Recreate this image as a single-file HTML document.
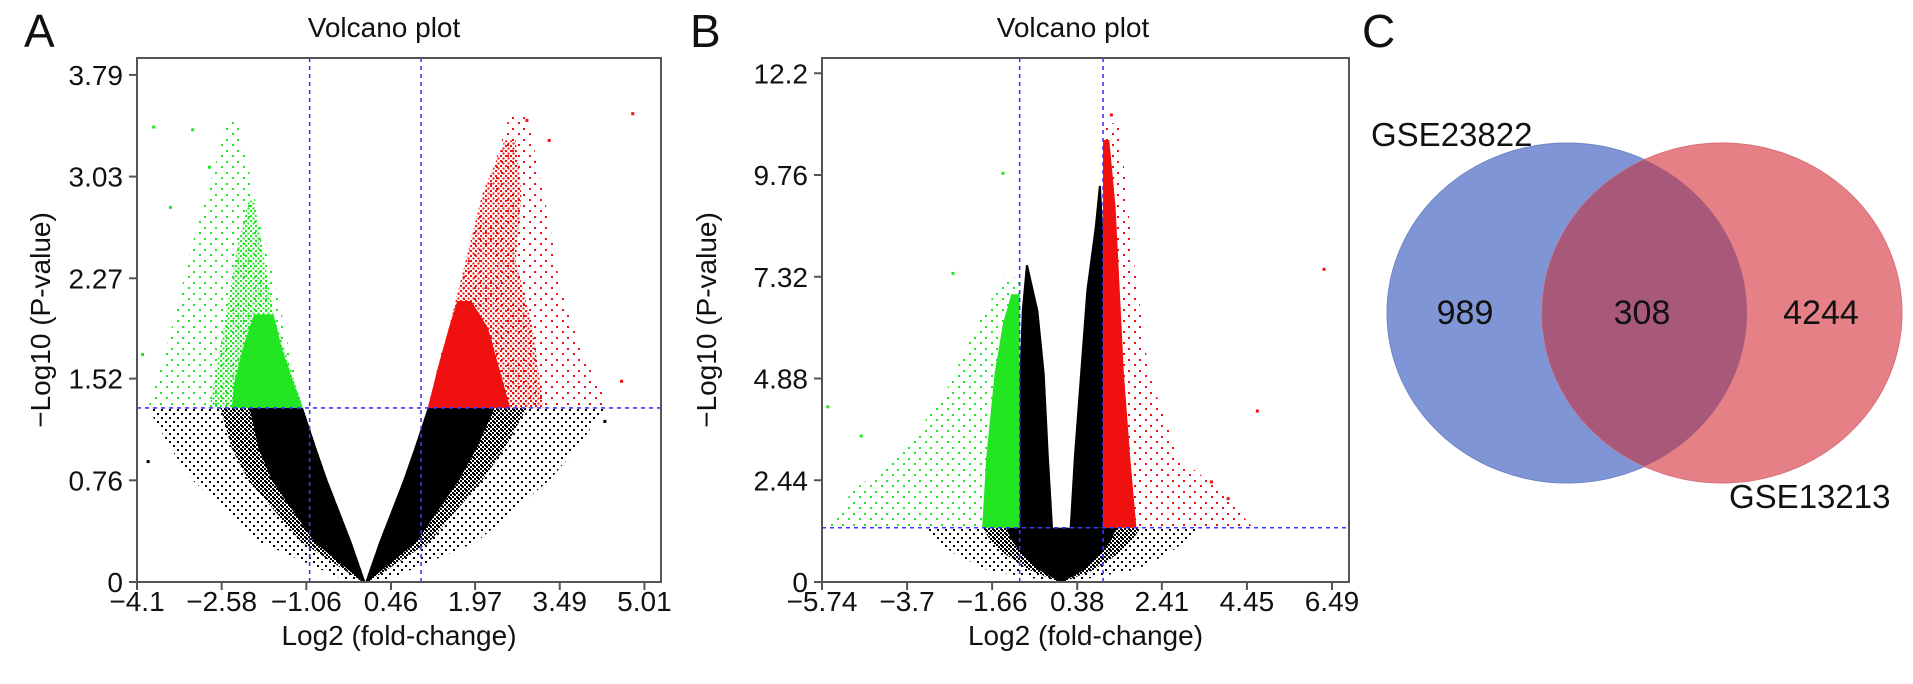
<!DOCTYPE html>
<html><head><meta charset="utf-8"><style>
html,body{margin:0;padding:0;background:#fff;}
svg{display:block;font-family:"Liberation Sans",sans-serif;}
</style></head><body>
<svg id="fig" width="1913" height="684" viewBox="0 0 1913 684" xmlns="http://www.w3.org/2000/svg">
<defs>
<pattern id="pk" width="4" height="4" patternUnits="userSpaceOnUse"><rect x="0" y="0" width="2" height="2" fill="#000"/><rect x="2" y="2" width="2" height="2" fill="#000"/></pattern>
<pattern id="pks" width="8" height="8" patternUnits="userSpaceOnUse"><rect x="1" y="1" width="2" height="2" fill="#000"/><rect x="5" y="5" width="2" height="2" fill="#000"/></pattern>
<pattern id="pg" width="5" height="5" patternUnits="userSpaceOnUse"><rect x="0" y="0" width="2" height="2" fill="#22e622"/><rect x="2.5" y="2.5" width="2" height="2" fill="#22e622"/></pattern>
<pattern id="pr" width="5" height="5" patternUnits="userSpaceOnUse"><rect x="0" y="0" width="2" height="2" fill="#f01010"/><rect x="2.5" y="2.5" width="2" height="2" fill="#f01010"/></pattern>
<pattern id="pgs" width="11" height="11" patternUnits="userSpaceOnUse"><rect x="1" y="1" width="2" height="2" fill="#22e622"/><rect x="6" y="7" width="2" height="2" fill="#22e622"/></pattern>
<pattern id="prs" width="11" height="11" patternUnits="userSpaceOnUse"><rect x="1" y="1" width="2" height="2" fill="#f01010"/><rect x="6" y="7" width="2" height="2" fill="#f01010"/></pattern>
<clipPath id="clipA"><rect x="137" y="58" width="524" height="524"/></clipPath>
<clipPath id="clipB"><rect x="822" y="58" width="527" height="524"/></clipPath>
<clipPath id="clipBlue"><ellipse cx="1567" cy="313" rx="180" ry="170"/></clipPath>
</defs>
<g id="panelA"></g>
<g id="panelB"></g>
<g id="venn">
<ellipse cx="1567" cy="313" rx="180" ry="170" fill="#8095d5" stroke="#6f84c8" stroke-width="1"/>
<ellipse cx="1722" cy="313" rx="180" ry="170" fill="#e68087" stroke="#d87078" stroke-width="1"/>
<ellipse cx="1722" cy="313" rx="180" ry="170" fill="#a8597a" clip-path="url(#clipBlue)"/>
<text x="1465" y="324" font-size="34" text-anchor="middle" fill="#111">989</text>
<text x="1642" y="324" font-size="34" text-anchor="middle" fill="#111">308</text>
<text x="1821" y="324" font-size="34" text-anchor="middle" fill="#111">4244</text>
<text x="1371" y="146" font-size="33" fill="#111">GSE23822</text>
<text x="1729" y="508" font-size="33" fill="#111">GSE13213</text>
</g>
<text x="24" y="47" font-size="46" fill="#111">A</text>
<text x="690" y="47" font-size="46" fill="#111">B</text>
<text x="1362" y="47" font-size="46" fill="#111">C</text>
</svg>
<script>
// ---------- Panel A data ----------
const aTicksX = [-4.1, -2.58, -1.06, 0.46, 1.97, 3.49, 5.01];
const aTicksY = [0, 0.76, 1.52, 2.27, 3.03, 3.79];
const aThreshX = [-1, 1];
const aThreshY = 1.301;
const aBlackY = [0, 0.3, 0.76, 1.0, 1.301];
const aBlackInL = [0, -0.25, -0.68, -0.88, -1.12];
const aBlackInR = [0, 0.25, 0.68, 0.88, 1.12];
const aBlackCoreL = [-0.05, -1.15, -2.1, -2.4, -2.6];
const aBlackCoreR = [0.05, 1.15, 2.1, 2.5, 2.9];
const aBlackHaloL = [-0.3, -1.9, -3.1, -3.5, -3.9];
const aBlackHaloR = [0.3, 2.0, 3.3, 3.8, 4.3];
const aGreenY = [1.301, 1.5, 1.75, 2.0];
const aGreenIn = [-1.12, -1.3, -1.5, -1.65];
const aGreenCore = [-2.4, -2.35, -2.2, -2.0];
const aGreenMidY = [1.301, 2.0, 2.5, 2.85];
const aGreenMidIn = [-1.12, -1.65, -1.85, -2.0];
const aGreenMid = [-2.8, -2.5, -2.3, -2.1];
const aGreenHaloY = [1.301, 1.7, 2.2, 2.7, 3.1, 3.45];
const aGreenHaloIn = [-1.12, -1.35, -1.6, -1.9, -2.1, -2.3];
const aGreenHalo = [-3.9, -3.6, -3.3, -3.0, -2.7, -2.5];
const aRedY = [1.301, 1.6, 1.9, 2.1];
const aRedIn = [1.12, 1.3, 1.5, 1.65];
const aRedCore = [2.6, 2.4, 2.2, 1.9];
const aRedMidY = [1.301, 1.9, 2.4, 2.9, 3.3];
const aRedMidIn = [1.12, 1.5, 1.8, 2.1, 2.5];
const aRedMid = [3.2, 3.0, 2.7, 2.8, 2.7];
const aRedHaloY = [1.301, 1.7, 2.2, 2.7, 3.1, 3.5];
const aRedHaloIn = [1.12, 1.35, 1.7, 2.0, 2.3, 2.6];
const aRedHalo = [4.4, 3.9, 3.5, 3.3, 3.1, 2.9];
const aOutX = [-3.8, -3.1, -2.8, -3.5, -4.0, 4.8, 4.6, 2.9, 3.3, -3.9, 4.3];
const aOutY = [3.4, 3.38, 3.1, 2.8, 1.7, 3.5, 1.5, 3.45, 3.3, 0.9, 1.2];
const aOutC = ['g','g','g','g','g','r','r','r','r','k','k'];
// ---------- Panel B data ----------
const bTicksX = [-5.74, -3.7, -1.66, 0.38, 2.41, 4.45, 6.49];
const bTicksY = [0, 2.44, 4.88, 7.32, 9.76, 12.2];
const bThreshX = [-1, 1];
const bThreshY = 1.301;
const bLowY = [0, 0.3, 0.7, 1.0, 1.301];
const bLowCoreL = [-0.05, -0.8, -1.4, -1.7, -1.9];
const bLowCoreR = [0.05, 0.8, 1.4, 1.7, 1.9];
const bLowHaloL = [-0.2, -1.8, -2.6, -3.0, -3.3];
const bLowHaloR = [0.2, 1.8, 2.6, 3.0, 3.4];
const bLeftLobeY = [1.301, 3, 5, 6.5, 7.6];
const bLeftLobeOut = [-1.0, -1.0, -1.0, -0.95, -0.85];
const bLeftLobeIn = [-0.2, -0.3, -0.4, -0.55, -0.8];
const bRightLobeY = [1.301, 3, 5, 7, 8.5, 9.5];
const bRightLobeIn = [0.2, 0.3, 0.45, 0.6, 0.8, 0.9];
const bRightLobeOut = [1.0, 1.0, 1.0, 1.0, 1.0, 0.95];
const bGreenY = [1.301, 3, 5, 6.2, 6.9];
const bGreenCore = [-1.9, -1.8, -1.6, -1.4, -1.2];
const bGreenHaloY = [1.301, 2.2, 3, 4.5, 6, 7.3];
const bGreenHalo = [-5.6, -5.0, -3.9, -2.8, -2.1, -1.4];
const bRedY = [1.301, 3, 5, 7, 9, 10.6];
const bRedCore = [1.8, 1.65, 1.5, 1.4, 1.3, 1.15];
const bRedHaloY = [1.301, 2.2, 3, 5, 8, 11];
const bRedHalo = [4.6, 3.8, 2.8, 2.1, 1.7, 1.4];
const bOutX = [-5.6, -4.8, -1.4, 6.3, 4.7, 4.0, 3.6, -2.6, 1.2];
const bOutY = [4.2, 3.5, 9.8, 7.5, 4.1, 2.0, 2.4, 7.4, 11.2];
const bOutC = ['g','g','g','r','r','r','r','g','r'];

const NS = 'http://www.w3.org/2000/svg';
function mk(tag, attrs, parent){ const e=document.createElementNS(NS,tag); for(const k in attrs) e.setAttribute(k,attrs[k]); parent.appendChild(e); return e; }
const COL = {g:'#22e622', r:'#f01010', k:'#000'};

function panel(g, cfg){
  const sx = v => cfg.x0 + (v - cfg.xmin) * cfg.kx;
  const sy = v => cfg.y0 - v * cfg.ky;
  const body = mk('g', {'clip-path': cfg.clip}, g);
  
  
  function band(ys, L, R, fill, name){
    const pts = [];
    for (let i=0;i<ys.length;i++) pts.push(sx(L[i])+','+sy(ys[i]));
    for (let i=ys.length-1;i>=0;i--) pts.push(sx(R[i])+','+sy(ys[i]));
    const p = mk('polygon', {points: pts.join(' '), fill: fill}, body);
    
    
  }
  cfg.bands.forEach(b => band(b[0], b[1], b[2], b[3], b[4]));
  for (let i=0;i<cfg.ox.length;i++){
    const r = mk('rect', {x: sx(cfg.ox[i])-1.5, y: sy(cfg.oy[i])-1.5, width:3, height:3, fill: COL[cfg.oc[i]]}, body);
    
    
  }
  cfg.tx.forEach(v => {
    const l = mk('line', {x1: sx(v), x2: sx(v), y1: cfg.top, y2: cfg.y0, stroke:'#3a3aff', 'stroke-width':1.6, 'stroke-dasharray':'4,4'}, g);
    
    
  });
  const th = mk('line', {x1: cfg.x0, x2: cfg.right, y1: sy(cfg.ty), y2: sy(cfg.ty), stroke:'#3a3aff', 'stroke-width':1.6, 'stroke-dasharray':'4,4'}, g);
  
  
  const box = mk('rect', {x: cfg.x0, y: cfg.top, width: cfg.right-cfg.x0, height: cfg.y0-cfg.top, fill:'none', stroke:'#555', 'stroke-width':2}, g);
  
  
  cfg.xt.forEach(v => {
    const t = mk('line', {x1: sx(v), x2: sx(v), y1: cfg.y0, y2: cfg.y0+8, stroke:'#555', 'stroke-width':2}, g);
    
    
    const tx = mk('text', {x: sx(v), y: 611, 'font-size': 28, 'text-anchor':'middle', fill:'#111'}, g);
    
    
    tx.textContent = String(v).replace('-', '\u2212');
  });
  cfg.yt.forEach(v => {
    const t = mk('line', {x1: cfg.x0-8, x2: cfg.x0, y1: sy(v), y2: sy(v), stroke:'#555', 'stroke-width':2}, g);
    
    
    const tx = mk('text', {x: cfg.x0-14, y: sy(v)+10, 'font-size': 28, 'text-anchor':'end', fill:'#111'}, g);
    
    
    tx.textContent = String(v);
  });
  const ttl = mk('text', {x: cfg.tcx, y: 37, 'font-size': 28, 'text-anchor':'middle', fill:'#111'}, g);
  
  
  ttl.textContent = 'Volcano plot';
  const xl = mk('text', {x: (cfg.x0+cfg.right)/2, y: 645, 'font-size': 28, 'text-anchor':'middle', fill:'#111'}, g);
  
  
  xl.textContent = 'Log2 (fold-change)';
  const yl = mk('text', {x: 0, y: 0, 'font-size': 28, 'text-anchor':'middle', fill:'#111', transform: 'translate('+cfg.ylx+',320) rotate(-90)'}, g);
  
  
  yl.textContent = '\u2212Log10 (P-value)';
}

panel(document.getElementById('panelA'), {
  x0:137, right:661, top:58, y0:582, xmin:-4.1, kx:55.7, ky:133.8, clip:'url(#clipA)',
  xt:aTicksX, yt:aTicksY, tx:aThreshX, ty:aThreshY, tcx:384, ylx:50,
  ox:aOutX, oy:aOutY, oc:aOutC,
  bands:[
    [aBlackY, aBlackHaloL, aBlackInL, 'url(#pks)', 'nonsignificant-halo-left'],
    [aBlackY, aBlackInR, aBlackHaloR, 'url(#pks)', 'nonsignificant-halo-right'],
    [aBlackY, aBlackCoreL, aBlackInL, 'url(#pk)', 'nonsignificant-mid-left'],
    [aBlackY, aBlackInR, aBlackCoreR, 'url(#pk)', 'nonsignificant-mid-right'],
    [aBlackY, aBlackCoreL.map(v=>v*0.8), aBlackInL, '#000', 'nonsignificant-core-left'],
    [aBlackY, aBlackInR, aBlackCoreR.map(v=>v*0.8), '#000', 'nonsignificant-core-right'],
    [aGreenHaloY, aGreenHalo, aGreenHaloIn, 'url(#pgs)', 'downregulated-halo'],
    [aGreenMidY, aGreenMid, aGreenMidIn, 'url(#pg)', 'downregulated-mid'],
    [aGreenY, aGreenCore, aGreenIn, '#22e622', 'downregulated-core'],
    [aRedHaloY, aRedHaloIn, aRedHalo, 'url(#prs)', 'upregulated-halo'],
    [aRedMidY, aRedMidIn, aRedMid, 'url(#pr)', 'upregulated-mid'],
    [aRedY, aRedIn, aRedCore, '#f01010', 'upregulated-core']
  ]
});

const bOnesL = bGreenY.map(() => -1.0), bOnesR = bRedY.map(() => 1.0);
const bOnesHL = bGreenHaloY.map(() => -1.0), bOnesHR = bRedHaloY.map(() => 1.0);
panel(document.getElementById('panelB'), {
  x0:822, right:1349, top:58, y0:582, xmin:-5.74, kx:41.7, ky:41.7, clip:'url(#clipB)',
  xt:bTicksX, yt:bTicksY, tx:bThreshX, ty:bThreshY, tcx:1073, ylx:716,
  ox:bOutX, oy:bOutY, oc:bOutC,
  bands:[
    [bLowY, bLowHaloL, bLowHaloR, 'url(#pks)', 'nonsignificant-halo'],
    [bLowY, bLowCoreL, bLowCoreR, 'url(#pk)', 'nonsignificant-mid'],
    [bLowY, bLowCoreL.map(v=>v*0.7), bLowCoreR.map(v=>v*0.7), '#000', 'nonsignificant-core'],
    [bLeftLobeY, bLeftLobeOut, bLeftLobeIn, '#000', 'nonsignificant-lobe-left'],
    [bRightLobeY, bRightLobeIn, bRightLobeOut, '#000', 'nonsignificant-lobe-right'],
    [bGreenHaloY, bGreenHalo, bOnesHL, 'url(#pgs)', 'downregulated-halo'],
    [bGreenY, bGreenCore, bOnesL, '#22e622', 'downregulated-core'],
    [bRedHaloY, bOnesHR, bRedHalo, 'url(#prs)', 'upregulated-halo'],
    [bRedY, bOnesR, bRedCore, '#f01010', 'upregulated-core']
  ]
});
</script>
</body></html>
